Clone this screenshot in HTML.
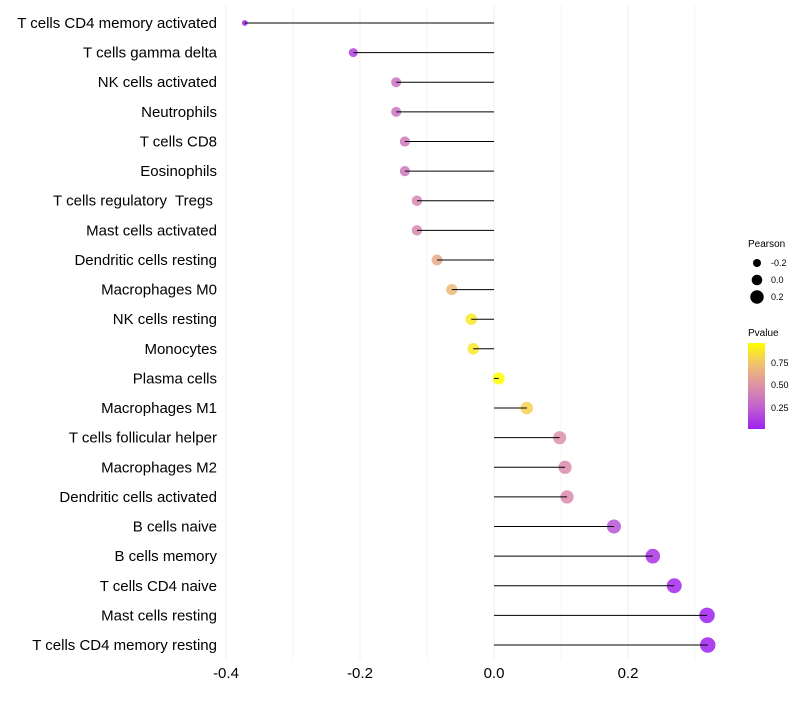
<!DOCTYPE html>
<html><head><meta charset="utf-8"><style>
body{margin:0;background:#fff;font-family:"Liberation Sans",sans-serif}
svg text{font-family:"Liberation Sans",sans-serif;white-space:pre}
</style></head><body>
<svg id="chart" width="800" height="700">
<defs><linearGradient id="pg" x1="0" y1="1" x2="0" y2="0">
<stop offset="0" stop-color="#a020f0"/><stop offset="0.25" stop-color="#c060d0"/><stop offset="0.5" stop-color="#dd90a8"/><stop offset="0.75" stop-color="#f0c070"/><stop offset="1" stop-color="#ffff00"/></linearGradient></defs>
<g id="grid"></g>
<g id="points"></g>
<g id="marks"></g>
<g id="ylabels"></g>
<g id="xlabels"></g>
<g font-size="9">
<text x="748" y="247" font-size="10">Pearson</text>
<circle cx="757" cy="263" r="4" fill="#000"/><text x="771" y="266">-0.2</text>
<circle cx="757" cy="280" r="5.3" fill="#000"/><text x="771" y="283">0.0</text>
<circle cx="757" cy="297" r="6.7" fill="#000"/><text x="771" y="300">0.2</text>
</g>
<g font-size="9">
<text x="748" y="336" font-size="10">Pvalue</text>
<rect x="748" y="343" width="17" height="86" fill="url(#pg)"/>
<text x="771" y="366">0.75</text><text x="771" y="388">0.50</text><text x="771" y="411">0.25</text>
</g>
</svg>
<script>
const cells=["T cells CD4 memory activated","T cells gamma delta","NK cells activated","Neutrophils","T cells CD8","Eosinophils","T cells regulatory  Tregs ","Mast cells activated","Dendritic cells resting","Macrophages M0","NK cells resting","Monocytes","Plasma cells","Macrophages M1","T cells follicular helper","Macrophages M2","Dendritic cells activated","B cells naive","B cells memory","T cells CD4 naive","Mast cells resting","T cells CD4 memory resting"];
const pearson=[-0.372,-0.210,-0.146,-0.146,-0.133,-0.133,-0.115,-0.115,-0.085,-0.063,-0.034,-0.031,0.007,0.049,0.098,0.106,0.109,0.179,0.237,0.269,0.318,0.319];
const pvalue=[0.02,0.15,0.35,0.35,0.38,0.38,0.45,0.45,0.62,0.70,0.88,0.88,0.97,0.80,0.50,0.47,0.47,0.22,0.10,0.06,0.03,0.03];
const xticks=[-0.4,-0.2,0.0,0.2];
const xminor=[-0.3,-0.1,0.1,0.3];
const NS="http://www.w3.org/2000/svg";
const X=v=>494+v*670;
const Y=i=>23+i*(622/21);
function mk(t,a,p){const e=document.createElementNS(NS,t);for(const k in a)e.setAttribute(k,a[k]);p.appendChild(e);return e;}
const stops=[[0,[160,32,240]],[0.25,[192,96,208]],[0.5,[221,144,168]],[0.75,[240,192,112]],[1,[255,255,0]]];
function col(p){let t=(p-0.03)/0.94;t=Math.max(0,Math.min(1,t));for(let i=1;i<stops.length;i++){if(t<=stops[i][0]){const a=stops[i-1],b=stops[i],f=(t-a[0])/(b[0]-a[0]);return "rgb("+a[1].map((c,j)=>Math.round(c+(b[1][j]-c)*f)).join(",")+")";}}return "#ff0";}
const g=document.getElementById('grid');
xminor.forEach(v=>{const l=mk('line',{x1:X(v),x2:X(v),y1:5,y2:660,stroke:'#f5f5f5','stroke-width':1},g);});
xticks.forEach(v=>{const l=mk('line',{x1:X(v),x2:X(v),y1:5,y2:660,stroke:'#efefef','stroke-width':1},g);});
const pts=document.getElementById('points'),m=document.getElementById('marks'),yl=document.getElementById('ylabels'),xl=document.getElementById('xlabels');
cells.forEach((c,i)=>{
const y=Y(i),v=pearson[i];
const r=Math.sqrt(Math.max(2.5,36+75*v));
const p=mk('circle',{cx:X(v),cy:y,r:r,fill:col(pvalue[i]),'fill-opacity':0.85},pts);


const l=mk('line',{x1:X(0),x2:X(v),y1:y,y2:y,stroke:'#000','stroke-width':1},m);


const t=mk('text',{x:217,y:y+5,'text-anchor':'end','font-size':15,fill:'#000'},yl);
t.textContent=c;


});
xticks.forEach(v=>{const t=mk('text',{x:X(v),y:678,'text-anchor':'middle','font-size':15,fill:'#000'},xl);t.textContent=v.toFixed(1);

});
</script>
</body></html>
